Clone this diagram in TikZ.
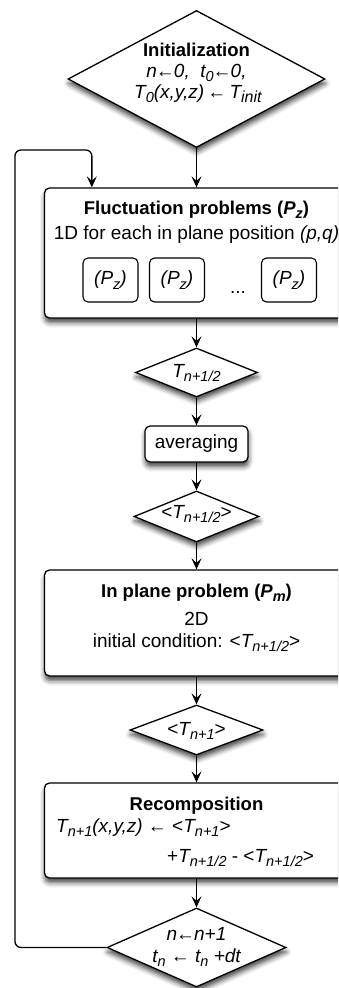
\documentclass[tikz,border=0pt]{standalone}
\usepackage{fontspec}
\setmainfont{Liberation Sans}
\usetikzlibrary{shapes.geometric,shadows.blur,arrows.meta}
\newcommand\bodyf{\fontsize{19}{22}\selectfont}
\newcommand\titf{\fontsize{18.5}{22}\selectfont\bfseries}
\newcommand\sbs[1]{\raisebox{-0.45ex}{\fontsize{14.5}{15}\selectfont #1}}
\newcommand\la{\kern-1pt←\kern-1pt}
\begin{document}
\begin{tikzpicture}[x=1pt,y=-1pt,
  shad/.style={blur shadow={shadow xshift=0.5pt, shadow yshift=-4.5pt, shadow blur radius=5pt, shadow opacity=75}},
  box/.style={draw, rounded corners=5pt, line width=1.3pt, fill=white, shad, inner sep=0pt, font=\bodyf},
  dia/.style={draw, diamond, line width=1.3pt, fill=white, shad, inner sep=0pt},
  sbox/.style={draw, rounded corners=5pt, line width=1.1pt, fill=white, minimum width=55pt, minimum height=44pt, inner sep=0pt, font=\bodyf\itshape},
  arr/.style={line width=1.3pt, -{Stealth[length=11pt,width=10pt,inset=4.5pt]}},
  txt/.style={anchor=base, inner sep=0pt, font=\bodyf},
  ttl/.style={anchor=base, inner sep=0pt, font=\titf},
  itx/.style={anchor=base, inner sep=0pt, font=\bodyf\itshape}]
\path[use as bounding box, clip] (0,0) rectangle (338,988);

% shapes
\node[dia, minimum width=257pt, minimum height=137pt] (init) at (196.5,79) {};
\node[box, minimum width=304pt, minimum height=130pt] (fbox) at (196.5,253) {};
\node[sbox] (pz1) at (110.5,280) {(P\sbs{z})};
\node[sbox] (pz2) at (177,280) {(P\sbs{z})};
\node[sbox] (pz3) at (289,280) {(P\sbs{z})};
\node[dia, minimum width=122pt, minimum height=49pt] (th) at (196.5,372.5) {};
\node[box, minimum width=103pt, minimum height=36pt] (avg) at (196.5,444) {averaging};
\node[dia, minimum width=125pt, minimum height=51pt] (tah) at (196.5,516.5) {};
\node[box, minimum width=304pt, minimum height=106pt] (ipb) at (196.5,623) {};
\node[dia, minimum width=133pt, minimum height=50pt] (ta1) at (196.5,730) {};
\node[box, minimum width=304pt, minimum height=95pt] (rec) at (196.5,830.5) {};
\node[dia, minimum width=179pt, minimum height=79pt] (upd) at (196.5,947.5) {};

% connectors
\draw[arr] (init) -- (fbox);
\draw[arr] (fbox) -- (th);
\draw[arr] (th) -- (avg);
\draw[arr] (avg) -- (tah);
\draw[arr] (tah) -- (ipb);
\draw[arr] (ipb) -- (ta1);
\draw[arr] (ta1) -- (rec);
\draw[arr] (rec) -- (upd);
\draw[arr, rounded corners=6pt] (upd.west) -| (15,150) -| ([xshift=48pt]fbox.north west);

% texts
\node[ttl] (it1) at (196.5,56) {Initialization};
\node[itx] (it2) at (196.5,77) {n\la0,~ t\sbs{0}\la0,};
\node[itx, anchor=base west] (it3) at (134,98) {T\sbs{0}(x,y,z)\,←\,T\sbs{\fontsize{16}{16}\selectfont init}};

\node[ttl] (ft1) at (196.5,214) {Fluctuation problems (\textit{P\sbs{z}})};
\node[txt] (ft2) at (196.5,239) {1D for each in plane position \textit{(p,q)}};
\node[txt] (dots) at (238,293) {...};

\node[itx] (tht) at (196.5,377) {T\sbs{n+1/2}};
\node[txt] (taht) at (196.5,518) {<\textit{T\sbs{n+1/2}}>};

\node[ttl] (ip1) at (196.5,597) {In plane problem (\textit{P\sbs{m}})};
\node[txt] (ip2) at (196.5,625) {2D};
\node[txt] (ip3) at (196.5,647) {initial condition: <\textit{T\sbs{n+1/2}}>};

\node[txt] (ta1t) at (196.5,735) {<\textit{T\sbs{n+1}}>};

\node[ttl] (rc1) at (196.5,810) {Recomposition};
\node[txt, anchor=base west] (rc2) at (56,832) {\textit{T\sbs{n+1}(x,y,z)} ← <\textit{T\sbs{n+1}}>};
\node[txt, anchor=base west] (rc3) at (167,862) {+\textit{T\sbs{n+1/2}} - <\textit{T\sbs{n+1/2}}>};

\node[itx] (up1) at (196.5,940) {n\la n+1};
\node[itx] (up2) at (196.5,962) {t\sbs{n} ← t\sbs{n} +dt};
\end{tikzpicture}
\end{document}
